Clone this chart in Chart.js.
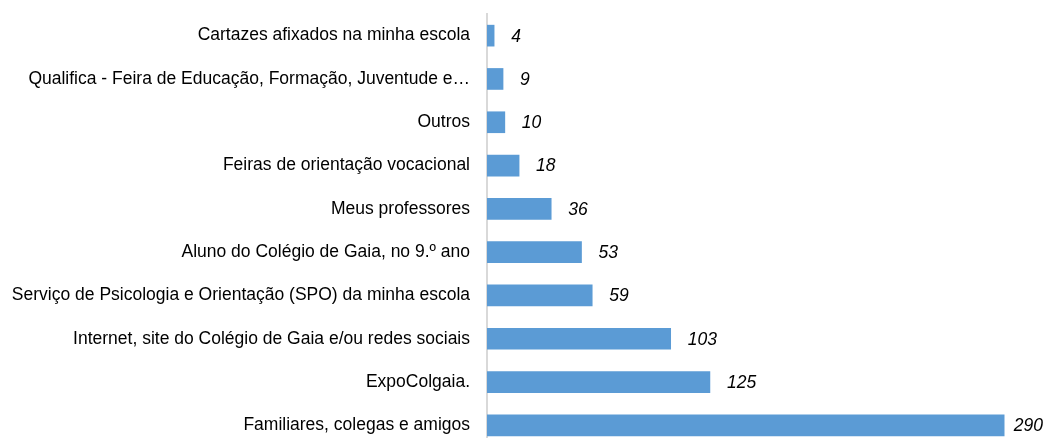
<!DOCTYPE html>
<html>
<head>
<meta charset="utf-8">
<script src="https://cdn.jsdelivr.net/npm/chart.js@4"></script>
<style>
  html, body { margin: 0; padding: 0; background: #fff; overflow: hidden; }
  #wrap { width: 1045px; height: 447px; position: relative; }
</style>
</head>
<body>
<div id="wrap"><canvas id="chart"></canvas></div>
<script>
// Categories top to bottom
const categories = [
    'Cartazes afixados na minha escola',
    'Qualifica - Feira de Educação, Formação, Juventude e…',
    'Outros',
    'Feiras de orientação vocacional',
    'Meus professores',
    'Aluno do Colégio de Gaia, no 9.º ano',
    'Serviço de Psicologia e Orientação (SPO) da minha escola',
    'Internet, site do Colégio de Gaia e/ou redes sociais',
    'ExpoColgaia.',
    'Familiares, colegas e amigos'
];
const counts = [4, 9, 10, 18, 36, 53, 59, 103, 125, 290];

Chart.defaults.font.family = "'Liberation Sans', Arial, sans-serif";
Chart.defaults.color = '#000';

// Draw value labels in italics to the right of each bar
const valueLabels = {
    id: 'valueLabels',
    afterDatasetsDraw(chart) {
        const ctx = chart.ctx;
        const meta = chart.getDatasetMeta(0);
        ctx.save();
        ctx.font = "italic 17.5px 'Liberation Sans', Arial, sans-serif";
        ctx.fillStyle = '#000';
        ctx.textBaseline = 'middle';
        meta.data.forEach((bar, i) => {
            const txt = String(counts[i]);
            const w = ctx.measureText(txt).width;
            const x = Math.min(bar.x + 17, chart.width - w - 2);
            ctx.fillText(txt, x, bar.y + 1);
        });
        ctx.restore();
    }
};

new Chart(document.getElementById('chart'), {
    type: 'bar',
    data: {
        labels: categories,
        datasets: [{
            data: counts,
            backgroundColor: '#5B9BD5',
            borderWidth: 0,
            barThickness: 21
        }]
    },
    options: {
        indexAxis: 'y',
        responsive: true,
        maintainAspectRatio: false,
        animation: false,
        layout: {
            padding: { top: 14, right: 23, bottom: 0, left: 0 }
        },
        plugins: {
            legend: { display: false },
            tooltip: { enabled: false }
        },
        scales: {
            x: {
                display: false,
                min: 0,
                max: 300
            },
            y: {
                afterFit(scale) {
                    scale.width = 487;
                    scale.paddingTop = 0;
                    scale.paddingBottom = 0;
                },
                grid: { display: false, drawTicks: false },
                border: { display: true, color: '#D9D9D9', width: 2 },
                ticks: {
                    padding: 17,
                    color: '#000',
                    font: { size: 17.5 }
                }
            }
        }
    },
    plugins: [valueLabels]
});
</script>
</body>
</html>
